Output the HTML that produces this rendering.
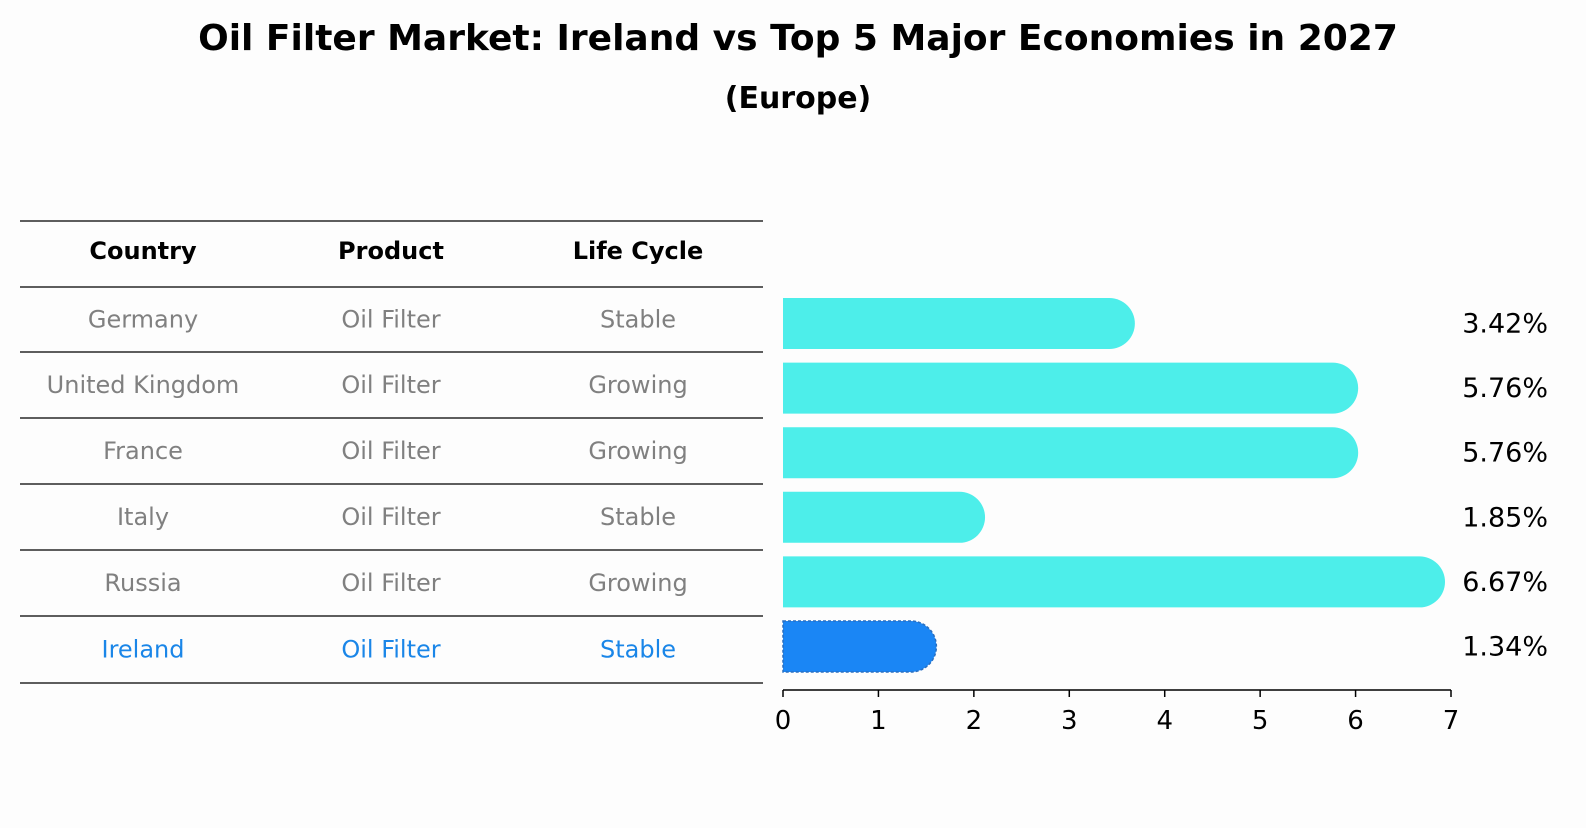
<!DOCTYPE html>
<html><head><meta charset="utf-8"><style>
body{margin:0;background:#fdfdfd;font-family:"Liberation Sans","DejaVu Sans",sans-serif;}
svg text{font-family:"DejaVu Sans","Liberation Sans",sans-serif;}
</style></head><body>
<svg width="1586" height="823" xmlns="http://www.w3.org/2000/svg">
<rect width="1586" height="823" fill="#fdfdfd"/>
<text x="798" y="50" text-anchor="middle" font-size="36" font-weight="bold">Oil Filter Market: Ireland vs Top 5 Major Economies in 2027</text>
<text x="798" y="108" text-anchor="middle" font-size="30" font-weight="bold">(Europe)</text>
<g id="table"></g>
<g id="bars"></g>
</svg>
<script>
const countries=["Germany","United Kingdom","France","Italy","Russia","Ireland"];
const products=["Oil Filter","Oil Filter","Oil Filter","Oil Filter","Oil Filter","Oil Filter"];
const lifecycles=["Stable","Growing","Growing","Stable","Growing","Stable"];
const values=[3.42,5.76,5.76,1.85,6.67,1.34];
const ticks=[0,1,2,3,4,5,6,7];
const NS="http://www.w3.org/2000/svg";
function mk(tag,attrs,parent,text){const e=document.createElementNS(NS,tag);for(const k in attrs)e.setAttribute(k,attrs[k]);if(text!==undefined)e.textContent=text;parent.appendChild(e);return e;}
const tbl=document.getElementById('table');
const lineYs=[221,287,352,418,484,550,616,683];
lineYs.forEach(y=>{const l=mk('line',{x1:20,x2:763,y1:y,y2:y,stroke:'#000','stroke-width':1.2},tbl);

});
const cx=[143,391,638];
["Country","Product","Life Cycle"].forEach((h,i)=>{const t=mk('text',{x:cx[i],y:259,'text-anchor':'middle','font-size':24,'font-weight':'bold'},tbl,h);

});
countries.forEach((c,r)=>{const y=(lineYs[r+1]+lineYs[r+2])/2+8;const col=c==="Ireland"?'#1a86e8':'#808080';
[c,products[r],lifecycles[r]].forEach((v,i)=>{const t=mk('text',{x:cx[i],y:y,'text-anchor':'middle','font-size':24,fill:col},tbl,v);

});});
const g=document.getElementById('bars');
const x0=783,x1=1451,xmax=7;
const xs=v=>x0+(x1-x0)*v/xmax;
const barTop=i=>298+64.6*i, bh=51;
values.forEach((v,i)=>{const y=barTop(i);const w=xs(v)-x0;const r=bh/2;
const ire=countries[i]==="Ireland";
const col=ire?'#1a86f5':'#4deeea';
const attrs={d:`M${x0},${y} H${x0+w} A${r},${r} 0 0 1 ${x0+w},${y+bh} H${x0} Z`,fill:col};
if(ire){attrs.stroke='#2a6fc0';attrs['stroke-width']=1.5;attrs['stroke-dasharray']='3,2';}
const p=mk('path',attrs,g);


const t=mk('text',{x:1548,y:y+bh/2+9,'text-anchor':'end','font-size':27},g,values[i].toFixed(2)+'%');

});
const ax=mk('line',{x1:x0,x2:x1,y1:690,y2:690,stroke:'#000','stroke-width':1.5},g);


ticks.forEach(v=>{const x=xs(v);mk('line',{x1:x,x2:x,y1:690,y2:697,stroke:'#000','stroke-width':1.5},g);
const t=mk('text',{x:x,y:729,'text-anchor':'middle','font-size':26},g,String(v));

});
</script>
</body></html>
